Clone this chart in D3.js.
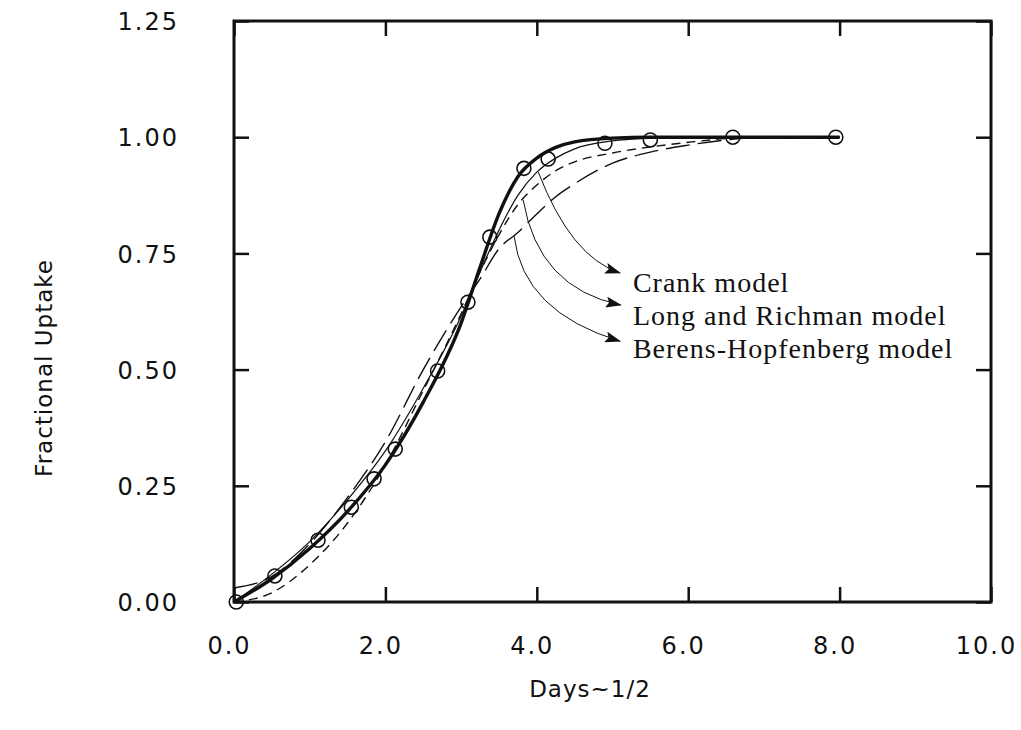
<!DOCTYPE html>
<html>
<head>
<meta charset="utf-8">
<script src="https://cdn.jsdelivr.net/npm/d3@7"></script>
<style>
body { margin: 0; background: #fff; }
svg { display: block; background: #fff; }
.tick-label { font-family: "DejaVu Sans", sans-serif; font-size: 24px; letter-spacing: 2px; fill: #111; }
.axis-title { font-family: "DejaVu Sans", sans-serif; font-size: 23px; letter-spacing: 1px; fill: #111; }
.model-label { font-family: "Liberation Serif", "Times New Roman", serif; font-size: 28px; letter-spacing: 1px; fill: #111; }
</style>
</head>
<body>
<svg id="chart" width="1021" height="730"></svg>
<script>
// vim: set expandtab shiftwidth=4 softtabstop=4:

// model curves, all sampled on the same Days^1/2 grid
var grid_x = [0, 0.5, 1, 1.5, 2, 2.5, 3, 3.25, 3.5, 3.75, 4, 4.25, 4.5, 5, 5.5, 6, 6.5, 7, 7.5, 8];
var fit_y = [0, 0.05, 0.115, 0.195, 0.295, 0.43, 0.60, 0.72, 0.835, 0.915, 0.955, 0.978, 0.99, 0.998, 1, 1, 1, 1, 1, 1];
var crank_y = [0, 0.06, 0.13, 0.22, 0.325, 0.46, 0.615, 0.71, 0.80, 0.875, 0.925, 0.955, 0.975, 0.992, 0.998, 1, 1, 1, 1, 1];
var long_richman_y = [0, 0.02, 0.08, 0.17, 0.295, 0.455, 0.62, 0.71, 0.79, 0.855, 0.897, 0.928, 0.947, 0.966, 0.979, 0.989, 0.997, 1, 1, 1];
var berens_y = [0.03, 0.055, 0.125, 0.225, 0.345, 0.50, 0.635, 0.695, 0.76, 0.795, 0.835, 0.872, 0.90, 0.944, 0.968, 0.983, 0.994, 1, 1, 1];

// measured uptake
var obs_x = [0.03, 0.54, 1.11, 1.55, 1.85, 2.13, 2.69, 3.09, 3.38, 3.83, 4.15, 4.9, 5.5, 6.59, 7.95];
var obs_y = [0, 0.056, 0.133, 0.204, 0.265, 0.329, 0.497, 0.645, 0.785, 0.933, 0.953, 0.987, 0.994, 1.0, 1.0];

var x_ticks = [0, 2, 4, 6, 8, 10];
var y_ticks = [0, 0.25, 0.5, 0.75, 1.0, 1.25];

// annotations: label text, label baseline (data units), arrow start / bend / end
var model_names = ["Crank model", "Long and Richman model", "Berens-Hopfenberg model"];
var label_x = 5.27;
var label_y = [0.667, 0.596, 0.525];
var arrow_from = [[4.02, 0.925], [3.82, 0.865], [3.70, 0.787]];
var arrow_bend = [[4.45, 0.742], [4.02, 0.675], [3.82, 0.624]];
var arrow_to = [[5.10, 0.708], [5.11, 0.639], [5.10, 0.561]];

chart = (function(){

    var svg = d3.select("#chart");
    var x = d3.scaleLinear().domain([0, 10]).range([234, 991]);
    var y = d3.scaleLinear().domain([0, 1.25]).range([602, 21]);

    //
    // draw_axes:
    //   Box frame with inward ticks on all four sides
    //
    function draw_axes() {
        var fmt_x = d3.format(".1f");
        var fmt_y = d3.format(".2f");
        var bottom = svg.append("g").attr("transform", "translate(0,602)")
            .call(d3.axisBottom(x).tickValues(x_ticks).tickSizeInner(-15)
                    .tickSizeOuter(0).tickFormat(fmt_x));
        var top = svg.append("g").attr("transform", "translate(0,21)")
            .call(d3.axisTop(x).tickValues(x_ticks).tickSizeInner(-15)
                    .tickSizeOuter(0).tickFormat(""));
        var left = svg.append("g").attr("transform", "translate(234,0)")
            .call(d3.axisLeft(y).tickValues(y_ticks).tickSizeInner(-15)
                    .tickSizeOuter(0).tickFormat(fmt_y));
        var right = svg.append("g").attr("transform", "translate(991,0)")
            .call(d3.axisRight(y).tickValues(y_ticks).tickSizeInner(-15)
                    .tickSizeOuter(0).tickFormat(""));
        [bottom, top, left, right].forEach(function(g) {
            g.select(".domain").remove();
            g.selectAll(".tick line").attr("stroke", "#111")
                .attr("stroke-width", 2.5);
            g.attr("font-size", null).attr("font-family", null);
        });
        bottom.selectAll(".tick text").attr("class", "tick-label")
            .attr("y", 52).attr("dy", 0).attr("dx", -5);
        left.selectAll(".tick text").attr("class", "tick-label")
            .attr("x", -55).attr("dy", "0.36em");

        svg.append("rect")
            .attr("x", x(0)).attr("y", y(1.25))
            .attr("width", x(10) - x(0)).attr("height", y(0) - y(1.25))
            .attr("fill", "none").attr("stroke", "#111")
            .attr("stroke-width", 3);

        svg.append("text").attr("class", "axis-title")
            .attr("x", 590).attr("y", 697)
            .attr("text-anchor", "middle")
            .text("Days~1/2");
        svg.append("text").attr("class", "axis-title")
            .attr("transform", "translate(52,368) rotate(-90)")
            .attr("text-anchor", "middle")
            .text("Fractional Uptake");
    }

    //
    // draw_curves:
    //   Fitted curve (heavy) plus the three model curves
    //
    function draw_curves() {
        var line = d3.line()
            .x(function(d) { return x(d[0]); })
            .y(function(d) { return y(d[1]); })
            .curve(d3.curveMonotoneX);
        var series = [
            { ys: fit_y, width: 3.4, dash: null },
            { ys: crank_y, width: 1.2, dash: null },
            { ys: long_richman_y, width: 1.4, dash: "9,6" },
            { ys: berens_y, width: 1.4, dash: "24,8" },
        ];
        series.forEach(function(s) {
            var pts = grid_x.map(function(v, i) { return [v, s.ys[i]]; });
            svg.append("path").datum(pts)
                .attr("d", line)
                .attr("fill", "none")
                .attr("stroke", "#111")
                .attr("stroke-width", s.width)
                .attr("stroke-dasharray", s.dash);
        });

        svg.selectAll("circle.obs")
            .data(obs_x.map(function(v, i) { return [v, obs_y[i]]; }))
            .enter().append("circle")
            .attr("class", "obs")
            .attr("cx", function(d) { return x(d[0]); })
            .attr("cy", function(d) { return y(d[1]); })
            .attr("r", 7)
            .attr("fill", "none")
            .attr("stroke", "#111")
            .attr("stroke-width", 1.6);
    }

    //
    // draw_labels:
    //   Curved arrows from each model curve to its name
    //
    function draw_labels() {
        svg.append("defs").append("marker")
            .attr("id", "head")
            .attr("viewBox", "0 0 16 11")
            .attr("refX", 15).attr("refY", 5.5)
            .attr("markerWidth", 16).attr("markerHeight", 11)
            .attr("markerUnits", "userSpaceOnUse")
            .attr("orient", "auto")
            .append("path")
            .attr("d", "M0,0 L16,5.5 L0,11 L3,5.5 Z")
            .attr("fill", "#111");

        model_names.forEach(function(name, i) {
            var p = d3.path();
            p.moveTo(x(arrow_from[i][0]), y(arrow_from[i][1]));
            p.quadraticCurveTo(x(arrow_bend[i][0]), y(arrow_bend[i][1]),
                               x(arrow_to[i][0]), y(arrow_to[i][1]));
            svg.append("path")
                .attr("d", p.toString())
                .attr("fill", "none")
                .attr("stroke", "#111")
                .attr("stroke-width", 1)
                .attr("marker-end", "url(#head)");
            svg.append("text").attr("class", "model-label")
                .attr("x", x(label_x)).attr("y", y(label_y[i]))
                .text(name);
        });
    }

    draw_axes();
    draw_curves();
    draw_labels();

    return {
        x: x,
        y: y,
    };
})();
</script>
</body>
</html>
